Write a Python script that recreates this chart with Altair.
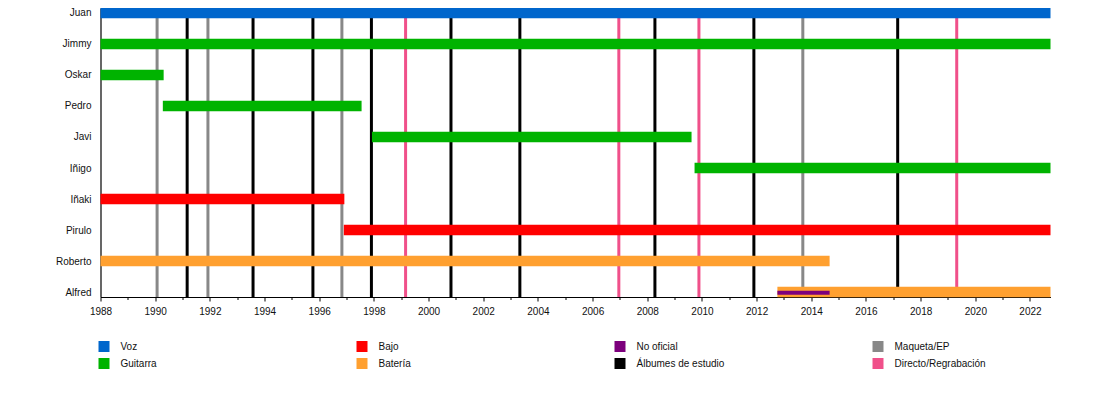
import altair as alt
import pandas as pd

END = 2022.75

members = ["Juan", "Jimmy", "Oskar", "Pedro", "Javi", "Iñigo", "Iñaki", "Pirulo", "Roberto", "Alfred"]
roles = ["Voz", "Guitarra", "Guitarra", "Guitarra", "Guitarra", "Guitarra", "Bajo", "Bajo", "Batería", "Batería"]
starts = [1988, 1988, 1988, 1990.28, 1997.93, 2009.73, 1988, 1996.9, 1988, 2012.76]
ends = [END, END, 1990.31, 1997.55, 2009.62, END, 1996.92, END, 2014.67, END]

unofficial_member = ["Alfred"]
unofficial_role = ["No oficial"]
unofficial_start = [2012.76]
unofficial_end = [2014.67]

event_years = [1990.07, 1991.17, 1991.93, 1993.58, 1995.77, 1996.83, 1997.91, 1999.16,
               2000.82, 2003.34, 2006.96, 2008.28, 2009.89, 2011.9, 2013.69, 2017.16, 2019.32]
event_types = ["Maqueta/EP", "Álbumes de estudio", "Maqueta/EP", "Álbumes de estudio",
               "Álbumes de estudio", "Maqueta/EP", "Álbumes de estudio", "Directo/Regrabación",
               "Álbumes de estudio", "Álbumes de estudio", "Directo/Regrabación", "Álbumes de estudio",
               "Directo/Regrabación", "Álbumes de estudio", "Maqueta/EP", "Álbumes de estudio",
               "Directo/Regrabación"]

categories = ["Voz", "Bajo", "No oficial", "Maqueta/EP",
              "Guitarra", "Batería", "Álbumes de estudio", "Directo/Regrabación"]
colors = ["#0066CC", "#FF0000", "#7D007D", "#888888",
          "#00B300", "#FFA030", "#000000", "#F0508A"]

tick_years = list(range(1988, 2023))

bars = pd.DataFrame({"member": members, "role": roles, "start": starts, "end": ends})
unofficial = pd.DataFrame({"member": unofficial_member, "role": unofficial_role,
                           "start": unofficial_start, "end": unofficial_end})
events = pd.DataFrame({"year": event_years, "type": event_types})

FONT = "Liberation Sans"

color_scale = alt.Scale(domain=categories, range=colors)
xscale = alt.Scale(domain=[1988, END], nice=False, zero=False)
yscale = alt.Scale(type="point", domain=members, padding=0.161)

legend = alt.Legend(
    title=None, orient="none", legendX=-2, legendY=333, direction="horizontal",
    columns=4, symbolType="square", symbolSize=121, symbolStrokeWidth=0,
    labelFontSize=10, labelFont=FONT, labelColor="#111", labelOffset=11,
    columnPadding=144, rowPadding=6, gridAlign="all", padding=0, symbolOpacity=1,
)

xaxis = alt.Axis(
    values=tick_years, format="d", title=None, grid=False,
    labelExpr="datum.value % 2 == 0 ? datum.label : ''",
    labelFlush=False, labelOverlap=False,
    domainColor="#000", domainWidth=1.2, tickColor="#000", tickWidth=1,
    tickSize={"condition": {"test": "datum.value % 2 == 1", "value": 2.5}, "value": 4},
    labelFontSize=10, labelFont=FONT, labelColor="#111", labelPadding=5,
)
yaxis = alt.Axis(
    title=None, ticks=False, grid=False, domainColor="#000", domainWidth=1.2,
    labelFontSize=10, labelFont=FONT, labelColor="#111", labelPadding=9.5,
)

rules = alt.Chart(events).mark_rule(strokeWidth=3).encode(
    x=alt.X("year:Q", scale=xscale, axis=xaxis),
    color=alt.Color("type:N", scale=color_scale, legend=legend),
)

bar_layer = alt.Chart(bars).mark_bar(size=10.5).encode(
    x=alt.X("start:Q", scale=xscale, axis=xaxis),
    x2="end:Q",
    y=alt.Y("member:N", scale=yscale, axis=yaxis, sort=members),
    color=alt.Color("role:N", scale=color_scale, legend=legend),
)

unofficial_layer = alt.Chart(unofficial).mark_bar(size=4, yOffset=0.7).encode(
    x=alt.X("start:Q", scale=xscale, axis=xaxis),
    x2="end:Q",
    y=alt.Y("member:N", scale=yscale, axis=yaxis, sort=members),
    color=alt.Color("role:N", scale=color_scale, legend=legend),
)

chart = alt.layer(rules, bar_layer, unofficial_layer).properties(
    width=950, height=289,
    autosize=alt.AutoSizeParams(type="none"),
    padding={"left": 92.5, "top": 0, "right": 40, "bottom": 80},
).configure_view(stroke=None)

chart.save("out.html", embed_options={"renderer": "svg", "actions": False})
